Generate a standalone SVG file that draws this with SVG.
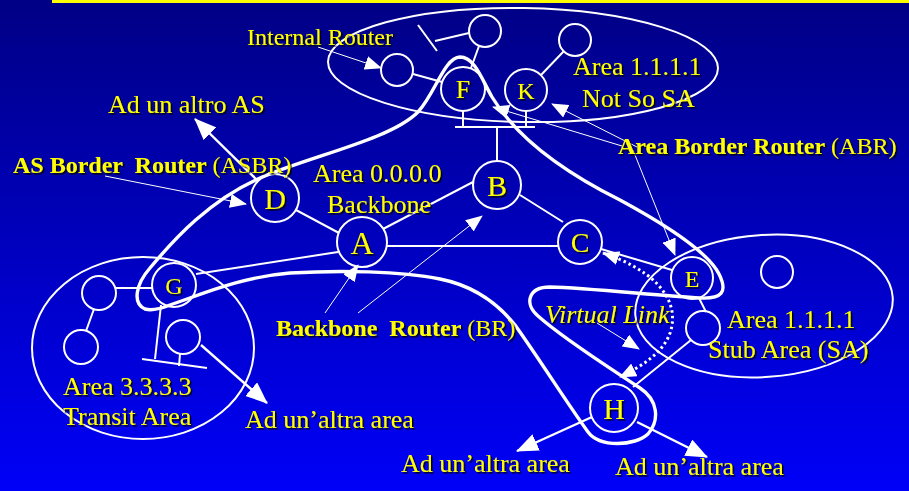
<svg xmlns="http://www.w3.org/2000/svg" width="909" height="491" viewBox="0 0 909 491">
  <defs>
    <linearGradient id="bg" x1="0" y1="0" x2="0" y2="1">
      <stop offset="0" stop-color="#000085"/>
      <stop offset="1" stop-color="#0000f8"/>
    </linearGradient>
    <filter id="shadow" x="-5%" y="-20%" width="115%" height="150%">
      <feDropShadow dx="1.6" dy="1.6" stdDeviation="0.4" flood-color="#000000" flood-opacity="0.85"/>
    </filter>
    <marker id="head-lg" markerUnits="userSpaceOnUse" markerWidth="22" markerHeight="18" refX="21" refY="9" orient="auto">
      <path d="M0,0 L22,9 L0,18 z" fill="#ffffff"/>
    </marker>
    <marker id="head-sm" markerUnits="userSpaceOnUse" markerWidth="17" markerHeight="14" refX="16" refY="7" orient="auto-start-reverse">
      <path d="M0,0 L17,7 L0,14 z" fill="#ffffff"/>
    </marker>
    <style>
      .area { fill: none; stroke: #ffffff; stroke-width: 2; }
      .backbone { fill: none; stroke: #ffffff; stroke-width: 3.4; stroke-linejoin: round; }
      .router { fill: none; stroke: #ffffff; stroke-width: 2; }
      .link { fill: none; stroke: #ffffff; stroke-width: 2; stroke-linecap: butt; }
      .out { fill: none; stroke: #ffffff; stroke-width: 2.4; marker-end: url(#head-lg); }
      .ptr { fill: none; stroke: #ffffff; stroke-width: 1; marker-end: url(#head-sm); }
      .vlink { fill: none; stroke: #ffffff; stroke-width: 3; stroke-dasharray: 2.5 3; marker-start: url(#head-sm); marker-end: url(#head-sm); }
      text { font-family: "Liberation Serif", "Times New Roman", serif; fill: #ffff00; filter: url(#shadow); }
      .lbl { font-size: 26px; }
      .tag { font-size: 24px; }
      .b { font-weight: bold; }
      .id { text-anchor: middle; }
    </style>
  </defs>

  <!-- background and title rule -->
  <rect x="0" y="0" width="909" height="491" fill="url(#bg)"/>
  <rect x="52" y="0" width="857" height="3" fill="#ffff00"/>

  <!-- area boundaries -->
  <g id="areas">
    <ellipse class="area" cx="523" cy="65" rx="195" ry="57" transform="rotate(1 523 65)"/>
    <ellipse class="area" cx="764" cy="306" rx="129" ry="71" transform="rotate(-4 764 306)"/>
    <ellipse class="area" cx="143" cy="348" rx="111" ry="91"/>
    <path id="backbone-area" class="backbone" d="M145,309 C132,303 136,284 150,268 C175,238 210,200 260,178 C310,156 390,140 418,112 C436,92 444,58 460,57 C475,57 482,80 492,97 C515,135 560,170 620,200 C668,226 708,252 719,274 C728,292 722,299 700,298 C660,296 590,288 550,287 C528,287 524,304 538,316 C565,340 610,368 640,388 C658,400 660,420 648,434 C635,446 600,448 588,432 C565,400 540,360 515,325 C495,300 470,285 440,279 C400,271 340,270 290,273 C240,277 200,295 170,305 C160,309 152,311 145,309 Z"/>
  </g>

  <!-- links, arrows and pointers -->
  <g id="connectors">
    <line class="link" x1="479" y1="46" x2="471" y2="68"/>
    <line class="link" x1="469" y1="33" x2="435" y2="41"/>
    <line class="link" x1="418" y1="25" x2="437" y2="51"/>
    <line class="link" x1="413" y1="74" x2="442" y2="82"/>
    <line class="link" x1="541" y1="75" x2="564" y2="51"/>
    <line class="link" x1="463" y1="111" x2="463" y2="127"/>
    <line class="link" x1="526" y1="111" x2="526" y2="127"/>
    <line class="link" x1="455" y1="127" x2="535" y2="127"/>
    <line class="link" x1="497" y1="127" x2="497" y2="161"/>
    <line class="link" x1="383" y1="229" x2="473" y2="182"/>
    <line class="link" x1="520" y1="195" x2="563" y2="222"/>
    <line class="link" x1="387" y1="246" x2="558" y2="246"/>
    <line class="link" x1="296" y1="210" x2="339" y2="233"/>
    <line class="link" x1="196" y1="274" x2="338" y2="252"/>
    <line class="link" x1="601" y1="249" x2="672" y2="270"/>
    <line class="link" x1="699" y1="298" x2="706" y2="312"/>
    <line class="link" x1="691" y1="340" x2="633" y2="387"/>
    <line class="link" x1="116" y1="288" x2="152" y2="288"/>
    <line class="link" x1="94" y1="309" x2="86" y2="331"/>
    <line class="link" x1="161" y1="305" x2="155" y2="359"/>
    <line class="link" x1="142" y1="359" x2="207" y2="368"/>
    <line class="link" x1="180" y1="354" x2="179" y2="366"/>

    <line class="out" x1="201" y1="345" x2="267" y2="403"/>
    <line class="out" x1="258" y1="181" x2="195" y2="119"/>
    <line class="out" x1="592" y1="417" x2="517" y2="451"/>
    <line class="out" x1="637" y1="422" x2="707" y2="457"/>

    <line class="ptr" x1="318" y1="47" x2="381" y2="68"/>
    <line class="ptr" x1="105" y1="176" x2="246" y2="204"/>
    <line class="ptr" x1="325" y1="313" x2="358" y2="265"/>
    <line class="ptr" x1="358" y1="313" x2="482" y2="216"/>
    <line class="ptr" x1="622" y1="146" x2="493" y2="107"/>
    <line class="ptr" x1="637" y1="147" x2="552" y2="104"/>
    <line class="ptr" x1="633" y1="150" x2="675" y2="255"/>
    <line class="ptr" x1="597" y1="323" x2="639" y2="349"/>

    <path id="virtual-link" class="vlink" d="M603,253 C648,268 680,295 671,330 C665,352 642,366 620,377"/>
  </g>

  <!-- routers -->
  <g id="router-F"><circle class="router" cx="463" cy="89" r="22"/><text class="id" x="463" y="98" font-size="26">F</text></g>
  <g id="router-K"><circle class="router" cx="526" cy="90" r="21"/><text class="id" x="526" y="99" font-size="24">K</text></g>
  <g id="router-B"><circle class="router" cx="497" cy="185" r="24"/><text class="id" x="497" y="196" font-size="30">B</text></g>
  <g id="router-A"><circle class="router" cx="362" cy="242" r="25"/><text class="id" x="362" y="254" font-size="32">A</text></g>
  <g id="router-C"><circle class="router" cx="580" cy="242" r="22"/><text class="id" x="580" y="252" font-size="28">C</text></g>
  <g id="router-D"><circle class="router" cx="275" cy="198" r="24"/><text class="id" x="275" y="209" font-size="30">D</text></g>
  <g id="router-G"><circle class="router" cx="174" cy="285" r="22"/><text class="id" x="174" y="294" font-size="24">G</text></g>
  <g id="router-E"><circle class="router" cx="692" cy="278" r="21"/><text class="id" x="692" y="287" font-size="24">E</text></g>
  <g id="router-H"><circle class="router" cx="614" cy="408" r="24"/><text class="id" x="614" y="419" font-size="30">H</text></g>
  <g id="router-n1"><circle class="router" cx="485" cy="31" r="16"/></g>
  <g id="router-n2"><circle class="router" cx="397" cy="70" r="16"/></g>
  <g id="router-n3"><circle class="router" cx="575" cy="40" r="16"/></g>
  <g id="router-n4"><circle class="router" cx="777" cy="272" r="16"/></g>
  <g id="router-n5"><circle class="router" cx="703" cy="328" r="17"/></g>
  <g id="router-n6"><circle class="router" cx="99" cy="293" r="17"/></g>
  <g id="router-n7"><circle class="router" cx="81" cy="347" r="17"/></g>
  <g id="router-n8"><circle class="router" cx="183" cy="337" r="17"/></g>

  <!-- labels -->
  <g id="labels">
    <text class="tag" x="247" y="45">Internal Router</text>
    <text class="lbl" x="573" y="75">Area 1.1.1.1</text>
    <text class="lbl" x="582" y="107">Not So SA</text>
    <text class="lbl" x="108" y="113">Ad un altro AS</text>
    <text class="tag" x="13" y="173" xml:space="preserve"><tspan class="b">AS Border  Router</tspan> (ASBR)</text>
    <text class="lbl" x="313" y="182">Area 0.0.0.0</text>
    <text class="lbl" x="327" y="213">Backbone</text>
    <text class="tag" x="618" y="154"><tspan class="b">Area Border Router</tspan> (ABR)</text>
    <text class="tag" x="276" y="336" xml:space="preserve"><tspan class="b">Backbone  Router</tspan> (BR)</text>
    <text class="lbl" x="545" y="323" font-style="italic">Virtual Link</text>
    <text class="lbl" x="727" y="328">Area 1.1.1.1</text>
    <text class="lbl" x="708" y="358">Stub Area (SA)</text>
    <text class="lbl" x="63" y="395">Area 3.3.3.3</text>
    <text class="lbl" x="63" y="425">Transit Area</text>
    <text class="lbl" x="245" y="428">Ad un’altra area</text>
    <text class="lbl" x="401" y="472">Ad un’altra area</text>
    <text class="lbl" x="615" y="475">Ad un’altra area</text>
  </g>
</svg>
